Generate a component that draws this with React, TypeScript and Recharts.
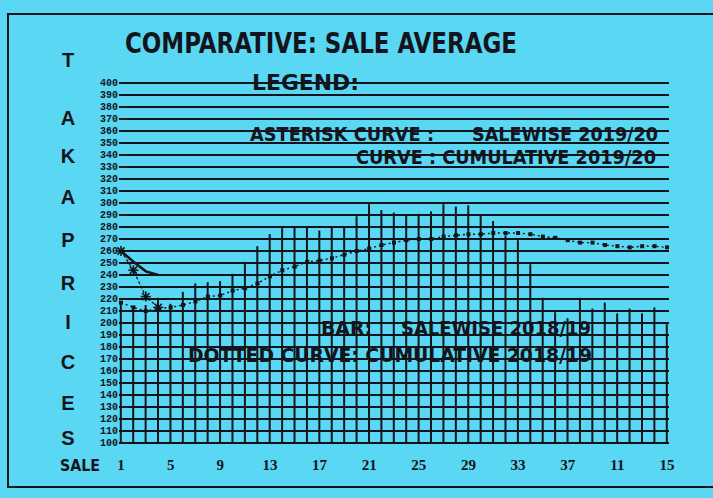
import { ComposedChart, Bar, Line, XAxis, YAxis, CartesianGrid } from "recharts";

// sale numbers along the x axis
const sales = [
  1, 2, 3, 4, 5, 6, 7, 8, 9, 10, 11, 12, 13, 14, 15, 16, 17, 18, 19, 20, 21, 22,
  23, 24, 25, 26, 27, 28, 29, 30, 31, 32, 33, 34, 35, 36, 37, 38, 39, 40, 41, 42,
  43, 44, 45,
];

// BAR: salewise 2018/19
const salewise1819 = [
  216, 212, 215, 221, 216, 226, 233, 234, 235, 241, 251, 264, 274, 279, 280,
  280, 277, 280, 280, 289, 299, 294, 292, 290, 291, 293, 299, 297, 298, 290,
  285, 273, 269, 249, 221, 209, 204, 221, 212, 217, 208, 212, 208, 213, 199,
];

// DOTTED CURVE: cumulative 2018/19
const cumulative1819 = [
  217, 213, 210, 212, 213, 215, 218, 222, 223, 227, 229, 233, 239, 244, 247,
  251, 252, 254, 257, 260, 262, 265, 267, 269, 270, 270, 272, 273, 274, 274,
  275, 275, 275, 274, 272, 271, 269, 267, 267, 265, 264, 263, 264, 264, 263,
];

// ASTERISK CURVE: salewise 2019/20 (first sales only)
const salewise1920 = [260, 244, 222, 213];

// CURVE: cumulative 2019/20
const cumulative1920 = [260, 251, 243, 240];

const xTicks = [1, 5, 9, 13, 17, 21, 25, 29, 33, 37, 41, 45];
const xTickLabels = ["1", "5", "9", "13", "17", "21", "25", "29", "33", "37", "11", "15"];

const yTicks = [
  100, 110, 120, 130, 140, 150, 160, 170, 180, 190, 200, 210, 220, 230, 240,
  250, 260, 270, 280, 290, 300, 310, 320, 330, 340, 350, 360, 370, 380, 390, 400,
];

const axisTitle = ["T", "A", "K", "A", "P", "R", "I", "C", "E", "S"];
const axisTitleY = [60, 118, 156, 197, 240, 283, 322, 362, 403, 438];

const data = sales.map((sale, i) => ({
  sale,
  bar: salewise1819[i],
  dotted: cumulative1819[i],
  asterisk: i < salewise1920.length ? salewise1920[i] : null,
  curve: i < cumulative1920.length ? cumulative1920[i] : null,
}));

const INK = "#14141c";
const BG = "#5ad7f2";
const SANS = "'Liberation Sans Narrow', 'DejaVu Sans Condensed', 'Liberation Sans', sans-serif";

function XTick({ x, y, payload }: any) {
  const idx = xTicks.indexOf(payload.value);
  return (
    <text
      x={x}
      y={y + 22}
      textAnchor="middle"
      dominantBaseline="central"
      fontFamily="'Liberation Serif', serif"
      fontWeight="bold"
      fontSize={15}
      fill={INK}
    >
      {idx >= 0 ? xTickLabels[idx] : payload.value}
    </text>
  );
}

function YTick({ x, y, payload }: any) {
  return (
    <text
      x={x - 1}
      y={y}
      textAnchor="end"
      dominantBaseline="central"
      fontFamily="'Liberation Mono', monospace"
      fontWeight="bold"
      fontSize={10}
      fill={INK}
    >
      {payload.value}
    </text>
  );
}

function AsteriskDot({ cx, cy, value }: any) {
  if (value == null || cx == null || cy == null) return null;
  const r = 5;
  const d = r * 0.72;
  return (
    <g stroke={INK} strokeWidth={1.6}>
      <line x1={cx - r} y1={cy} x2={cx + r} y2={cy} />
      <line x1={cx} y1={cy - r} x2={cx} y2={cy + r} />
      <line x1={cx - d} y1={cy - d} x2={cx + d} y2={cy + d} />
      <line x1={cx - d} y1={cy + d} x2={cx + d} y2={cy - d} />
    </g>
  );
}

function SquareDot({ cx, cy }: any) {
  if (cx == null || cy == null) return null;
  return <rect x={cx - 2} y={cy - 2} width={4} height={4} fill={INK} />;
}

export default function App() {
  return (
    <div
      style={{
        position: "fixed",
        left: 0,
        top: 0,
        width: 713,
        height: 498,
        background: BG,
        overflow: "hidden",
      }}
    >
      <ComposedChart
        width={713}
        height={498}
        data={data}
        margin={{ top: 83, right: 44, bottom: 25, left: 89 }}
      >
        <CartesianGrid horizontal vertical={false} stroke={INK} strokeWidth={1.8} />
        <XAxis
          type="number"
          dataKey="sale"
          domain={[1, 45]}
          ticks={xTicks}
          padding={{ left: 2, right: 2 }}
          height={30}
          tickSize={0}
          tickMargin={0}
          axisLine={false}
          tickLine={false}
          tick={<XTick />}
          interval={0}
        />
        <YAxis
          type="number"
          domain={[100, 400]}
          ticks={yTicks}
          width={30}
          tickSize={0}
          tickMargin={0}
          axisLine={false}
          tickLine={false}
          tick={<YTick />}
          interval={0}
        />
        <Bar dataKey="bar" fill={INK} barSize={2} isAnimationActive={false} />
        <Line
          type="linear"
          dataKey="dotted"
          stroke={INK}
          strokeWidth={1.4}
          strokeDasharray="2 3"
          dot={<SquareDot />}
          isAnimationActive={false}
        />
        <Line
          type="linear"
          dataKey="curve"
          stroke={INK}
          strokeWidth={2.6}
          dot={false}
          isAnimationActive={false}
        />
        <Line
          type="linear"
          dataKey="asterisk"
          stroke={INK}
          strokeWidth={1.2}
          strokeDasharray="3 2"
          dot={<AsteriskDot />}
          isAnimationActive={false}
        />
      </ComposedChart>

      <svg
        width={713}
        height={498}
        style={{ position: "absolute", left: 0, top: 0, pointerEvents: "none" }}
      >
        <rect x={8} y={14} width={730} height={473} fill="none" stroke={INK} strokeWidth={2} />
        <g fill={INK} fontFamily={SANS} fontWeight="bold">
          <text x={125} y={53} fontSize={28} textLength={392} lengthAdjust="spacingAndGlyphs">
            COMPARATIVE: SALE AVERAGE
          </text>
          <text x={252} y={90} fontSize={22} textLength={107} lengthAdjust="spacingAndGlyphs">
            LEGEND:
          </text>
          <text x={250} y={141} fontSize={20} textLength={184} lengthAdjust="spacingAndGlyphs">
            ASTERISK CURVE :
          </text>
          <text x={472} y={141} fontSize={20} textLength={186} lengthAdjust="spacingAndGlyphs">
            SALEWISE 2019/20
          </text>
          <text x={356} y={164} fontSize={20} textLength={300} lengthAdjust="spacingAndGlyphs">
            CURVE : CUMULATIVE 2019/20
          </text>
          <text x={321} y={335} fontSize={20} textLength={51} lengthAdjust="spacingAndGlyphs">
            BAR:
          </text>
          <text x={401} y={335} fontSize={20} textLength={190} lengthAdjust="spacingAndGlyphs">
            SALEWISE 2018/19
          </text>
          <text x={188} y={362} fontSize={20} textLength={404} lengthAdjust="spacingAndGlyphs">
            DOTTED CURVE: CUMULATIVE 2018/19
          </text>
          <text x={60} y={471} fontSize={15} textLength={40} lengthAdjust="spacingAndGlyphs">
            SALE
          </text>
          {axisTitle.map((ch, i) => (
            <text
              key={i}
              x={68}
              y={axisTitleY[i]}
              fontSize={20}
              textAnchor="middle"
              dominantBaseline="central"
              fontFamily="'Liberation Sans', sans-serif"
            >
              {ch}
            </text>
          ))}
        </g>
      </svg>
    </div>
  );
}
